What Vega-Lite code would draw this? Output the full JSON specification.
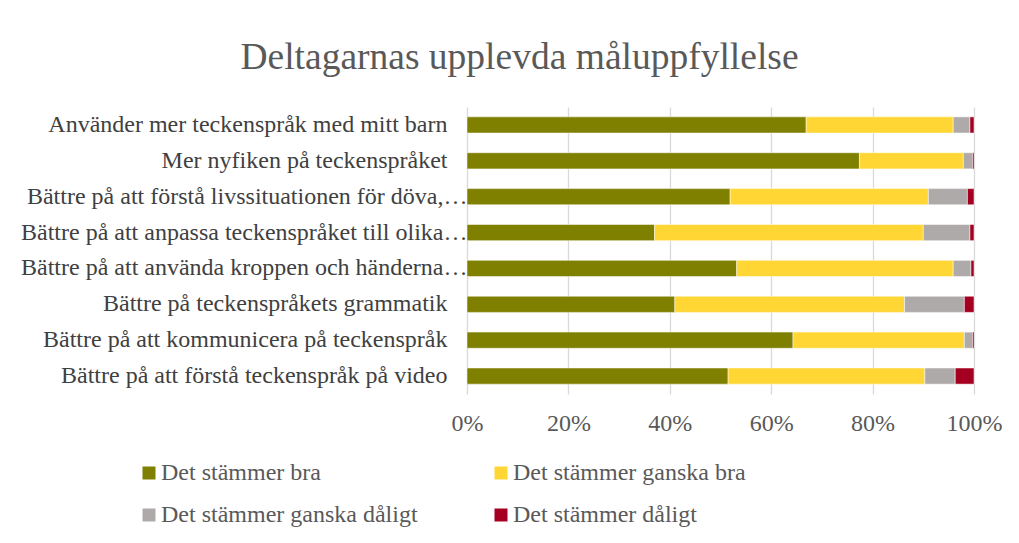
{
  "$schema": "https://vega.github.io/schema/vega-lite/v6.json",
  "autosize": "none",
  "width": 507,
  "height": 287,
  "padding": {"left": 467, "top": 107, "right": 45, "bottom": 149},
  "background": "white",
  "title": {
    "text": "Deltagarnas upplevda måluppfyllelse",
    "font": "Liberation Serif",
    "fontSize": 37.5,
    "fontWeight": "normal",
    "color": "#595959",
    "anchor": "middle",
    "frame": "group",
    "baseline": "alphabetic",
    "dx": -201,
    "offset": 1
  },
  "data": {
    "values": [
      {"q": "Använder mer teckenspråk med mitt barn", "r": "Det stämmer bra", "o": 1, "v": 66.9},
      {"q": "Använder mer teckenspråk med mitt barn", "r": "Det stämmer ganska bra", "o": 2, "v": 29.0},
      {"q": "Använder mer teckenspråk med mitt barn", "r": "Det stämmer ganska dåligt", "o": 3, "v": 3.3},
      {"q": "Använder mer teckenspråk med mitt barn", "r": "Det stämmer dåligt", "o": 4, "v": 0.8},
      {"q": "Mer nyfiken på teckenspråket", "r": "Det stämmer bra", "o": 1, "v": 77.4},
      {"q": "Mer nyfiken på teckenspråket", "r": "Det stämmer ganska bra", "o": 2, "v": 20.5},
      {"q": "Mer nyfiken på teckenspråket", "r": "Det stämmer ganska dåligt", "o": 3, "v": 1.8},
      {"q": "Mer nyfiken på teckenspråket", "r": "Det stämmer dåligt", "o": 4, "v": 0.3},
      {"q": "Bättre på att förstå livssituationen för döva,…", "r": "Det stämmer bra", "o": 1, "v": 51.9},
      {"q": "Bättre på att förstå livssituationen för döva,…", "r": "Det stämmer ganska bra", "o": 2, "v": 39.1},
      {"q": "Bättre på att förstå livssituationen för döva,…", "r": "Det stämmer ganska dåligt", "o": 3, "v": 7.7},
      {"q": "Bättre på att förstå livssituationen för döva,…", "r": "Det stämmer dåligt", "o": 4, "v": 1.3},
      {"q": "Bättre på att anpassa teckenspråket till olika…", "r": "Det stämmer bra", "o": 1, "v": 37.0},
      {"q": "Bättre på att anpassa teckenspråket till olika…", "r": "Det stämmer ganska bra", "o": 2, "v": 53.0},
      {"q": "Bättre på att anpassa teckenspråket till olika…", "r": "Det stämmer ganska dåligt", "o": 3, "v": 9.2},
      {"q": "Bättre på att anpassa teckenspråket till olika…", "r": "Det stämmer dåligt", "o": 4, "v": 0.8},
      {"q": "Bättre på att använda kroppen och händerna…", "r": "Det stämmer bra", "o": 1, "v": 53.2},
      {"q": "Bättre på att använda kroppen och händerna…", "r": "Det stämmer ganska bra", "o": 2, "v": 42.7},
      {"q": "Bättre på att använda kroppen och händerna…", "r": "Det stämmer ganska dåligt", "o": 3, "v": 3.5},
      {"q": "Bättre på att använda kroppen och händerna…", "r": "Det stämmer dåligt", "o": 4, "v": 0.6},
      {"q": "Bättre på teckenspråkets grammatik", "r": "Det stämmer bra", "o": 1, "v": 41.0},
      {"q": "Bättre på teckenspråkets grammatik", "r": "Det stämmer ganska bra", "o": 2, "v": 45.3},
      {"q": "Bättre på teckenspråkets grammatik", "r": "Det stämmer ganska dåligt", "o": 3, "v": 11.8},
      {"q": "Bättre på teckenspråkets grammatik", "r": "Det stämmer dåligt", "o": 4, "v": 1.9},
      {"q": "Bättre på att kommunicera på teckenspråk", "r": "Det stämmer bra", "o": 1, "v": 64.3},
      {"q": "Bättre på att kommunicera på teckenspråk", "r": "Det stämmer ganska bra", "o": 2, "v": 33.8},
      {"q": "Bättre på att kommunicera på teckenspråk", "r": "Det stämmer ganska dåligt", "o": 3, "v": 1.6},
      {"q": "Bättre på att kommunicera på teckenspråk", "r": "Det stämmer dåligt", "o": 4, "v": 0.3},
      {"q": "Bättre på att förstå teckenspråk på video", "r": "Det stämmer bra", "o": 1, "v": 51.5},
      {"q": "Bättre på att förstå teckenspråk på video", "r": "Det stämmer ganska bra", "o": 2, "v": 38.8},
      {"q": "Bättre på att förstå teckenspråk på video", "r": "Det stämmer ganska dåligt", "o": 3, "v": 6.0},
      {"q": "Bättre på att förstå teckenspråk på video", "r": "Det stämmer dåligt", "o": 4, "v": 3.7}
    ]
  },
  "mark": {"type": "bar", "stroke": "white", "strokeWidth": 0.5},
  "encoding": {
    "y": {
      "field": "q",
      "type": "nominal",
      "sort": null,
      "scale": {"paddingInner": 0.55, "paddingOuter": 0.275},
      "axis": {
        "title": null,
        "ticks": false,
        "domain": false,
        "labelPadding": {"condition": {"test": "indexof(datum.label, '…') >= 0", "value": 0}, "value": 20},
        "labelFont": "Liberation Serif",
        "labelFontSize": 24,
        "labelColor": "#404040",
        "labelLimit": 600
      }
    },
    "x": {
      "field": "v",
      "type": "quantitative",
      "stack": "normalize",
      "scale": {"domain": [0, 1], "nice": false},
      "axis": {
        "title": null,
        "format": "%",
        "values": [0, 0.2, 0.4, 0.6, 0.8, 1],
        "ticks": false,
        "domain": false,
        "grid": true,
        "gridColor": "#d9d9d9",
        "gridWidth": 1.3,
        "labelPadding": 17,
        "labelFont": "Liberation Serif",
        "labelFontSize": 24,
        "labelColor": "#595959",
        "labelFlush": false
      }
    },
    "order": {"field": "o", "type": "quantitative"},
    "color": {
      "field": "r",
      "type": "nominal",
      "scale": {
        "domain": ["Det stämmer bra", "Det stämmer ganska dåligt", "Det stämmer ganska bra", "Det stämmer dåligt"],
        "range": ["#7f7f00", "#aeaaaa", "#ffd633", "#a50021"]
      },
      "legend": {
        "title": null,
        "orient": "none",
        "legendX": -330,
        "legendY": 354,
        "columns": 2,
        "columnPadding": 71,
        "rowPadding": 18,
        "symbolType": "square",
        "symbolSize": 169,
        "symbolStrokeWidth": 0,
        "labelOffset": 0,
        "labelFont": "Liberation Serif",
        "labelFontSize": 24,
        "labelColor": "#595959",
        "labelLimit": 400
      }
    }
  },
  "config": {"view": {"stroke": null}}
}
